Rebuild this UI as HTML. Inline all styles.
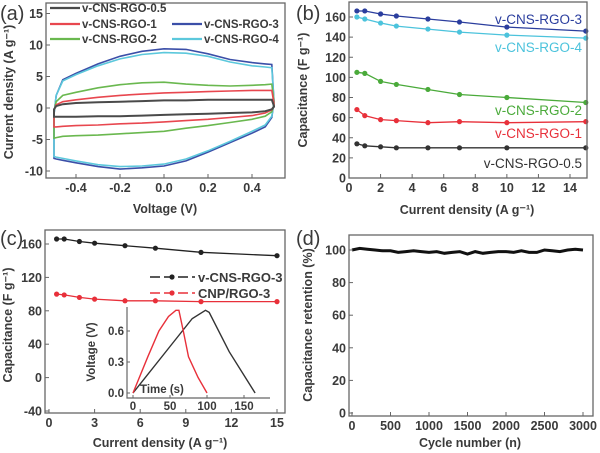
<!DOCTYPE html>
<html><head><meta charset="utf-8"><style>
html,body{margin:0;padding:0;background:#fff}
svg{display:block;font-family:"Liberation Sans",Arial,sans-serif}
text{fill:#3a3a3a}
</style></head><body>
<svg id="fig" width="600" height="453" viewBox="0 0 600 453"></svg>
<script>
// ---- panel a data (CV) ----
const cvVolt=[-0.5,-0.49,-0.46,-0.4,-0.3,-0.2,-0.1,0,0.1,0.2,0.3,0.4,0.46,0.49,0.5];
const cv05Up=[-0.2,0.3,0.6,0.8,0.9,1,1.1,1.2,1.2,1.3,1.3,1.3,1.3,1.3,0.3];
const cv05Lo=[-1.4,-1.4,-1.4,-1.4,-1.3,-1.3,-1.2,-1.1,-1,-0.9,-0.8,-0.7,-0.5,-0.2,0.2];
const cv1Up=[-0.3,0.5,1,1.3,1.7,2,2.2,2.4,2.5,2.6,2.7,2.8,2.8,2.8,0.7];
const cv1Lo=[-3,-3,-2.9,-2.8,-2.7,-2.5,-2.4,-2.2,-2,-1.8,-1.5,-1.2,-0.8,-0.3,0.3];
const cv2Up=[-0.5,1,2,2.5,3.2,3.7,4,4.1,3.8,3.6,3.5,3.6,3.7,3.8,1];
const cv2Lo=[-4.8,-4.7,-4.5,-4.4,-4.3,-4.1,-3.9,-3.7,-3.2,-2.8,-2.3,-1.8,-1.3,-0.6,0.5];
const cv3Up=[-1,2,4.5,5.5,7,8.2,9,9.4,9.3,8.6,7.7,7.2,7,6.9,1];
const cv3Lo=[-8,-8.1,-8.3,-8.7,-9.3,-9.7,-9.5,-9.2,-8.4,-7,-5.5,-4,-3,-1.5,1];
const cv4Up=[-1,2,4.3,5.3,6.7,7.8,8.5,8.8,8.7,8.2,7.3,6.7,6.5,6.4,1];
const cv4Lo=[-7.7,-7.8,-8,-8.4,-9,-9.3,-9.2,-8.9,-8.1,-6.8,-5.3,-3.7,-2.7,-1.3,1];
const aXTicks=[-0.4,-0.2,0.0,0.2,0.4];
const aYTicks=[-10,-5,0,5,10,15];
// ---- panel b data ----
const rateX=[0.5,1,2,3,5,7,10,15];
const capR3=[166,166,163,161,158,155,150,146];
const capR4=[160,158,154,151,148,145,142,139];
const capR2=[105,104,96,93,88,83,80,75];
const capR1=[68,62,58,57,55,56,55,56];
const capR05=[34,32,31,30,30,30,30,30];
const bXTicks=[0,2,4,6,8,10,12,14];
const bYTicks=[0,20,40,60,80,100,120,140,160];
// ---- panel c data ----
const capCNP=[100,99,96,94,92,92,91,91];
const cXTicks=[0,3,6,9,12,15];
const cYTicks=[-40,0,40,80,120,160];
const gcdBlackT=[0,50,80,98,103,130,165];
const gcdBlackV=[0,0.45,0.72,0.8,0.78,0.4,0];
const gcdRedT=[0,20,35,48,58,62,68,75,88,100];
const gcdRedV=[0,0.35,0.6,0.74,0.8,0.8,0.6,0.35,0.15,0];
const insetXTicks=[0,50,100,150];
const insetYTicks=[0.0,0.3,0.6];
// ---- panel d data ----
const cycleVals=[100,101,100.5,100,99.5,99.5,98.5,99,99.5,99,98.5,99,98,98.5,99,97.5,99,98,98.5,99,99,98.5,99.5,98.5,98.5,100,99.5,99,100,100.5,100];
const dXTicks=[0,500,1000,1500,2000,2500,3000];
const dYTicks=[0,20,40,60,80,100];

const NS="http://www.w3.org/2000/svg";
const svg=document.getElementById('fig');
function el(tag,attrs,parent){const e=document.createElementNS(NS,tag);for(const k in attrs)e.setAttribute(k,attrs[k]);(parent||svg).appendChild(e);return e;}
function txt(x,y,s,size,anchor,parent,extra){const t=el('text',Object.assign({x:x,y:y,'font-size':size,'text-anchor':anchor||'middle'},extra||{}),parent);t.textContent=s;return t;}
function lin(d0,d1,p0,p1){return v=>p0+(v-d0)*(p1-p0)/(d1-d0);}
function frame(x0,y0,x1,y1,name){const r=el('rect',{x:x0,y:y0,width:x1-x0,height:y1-y0,fill:'none',stroke:'#666','stroke-width':1.3});}
function axes(xs,ys,xt,yt,x0,y0,x1,y1,fmtX,fmtY,pre){
 const gx=el('g',{});
 xt.forEach(v=>{const X=xs(v);el('line',{x1:X,x2:X,y1:y1,y2:y1-4,stroke:'#666'},gx);const t=txt(X,y1+14,fmtX(v),12.5,'middle',gx,{'font-weight':'bold'});});
 const gy=el('g',{});
 yt.forEach(v=>{const Y=ys(v);el('line',{x1:x0,x2:x0+4,y1:Y,y2:Y,stroke:'#666'},gy);const t=txt(x0-3,Y+4.5,fmtY(v),12.5,'end',gy,{'font-weight':'bold'});});
}
function ytitle(x,y,s,name){const t=txt(x,y,'',12.5,'middle',null,{transform:`rotate(-90 ${x} ${y})`,'font-weight':'bold'});t.textContent=s;return t;}
function xtitle(x,y,s,name){const t=txt(x,y,s,12.5,'middle',null,{'font-weight':'bold'});}
function label(x,y,s,name){const t=txt(x,y,s,20,'start');}
function polyPath(xs,ys,X,Y){return X.map((v,i)=>(i?'L':'M')+xs(v).toFixed(1)+','+ys(Y[i]).toFixed(1)).join('');}
function series(xs,ys,X,Y,col,name,r){const g=el('g',{});
 el('path',{d:polyPath(xs,ys,X,Y),fill:'none',stroke:col,'stroke-width':1.3},g);
 X.forEach((v,i)=>{const c=el('circle',{cx:xs(v),cy:ys(Y[i]),r:r||2.6,fill:col},g);});}

// ===== Panel a =====
{const x0=46,x1=285,y0=3,y1=178;
 const xs=lin(-0.5,0.5,54,274), ys=lin(0,10,108,45);
 const cols=['#4a4a4a','#e8474f','#6ab84f','#3b4fa8','#5cc8dc'];
 const ups=[cv05Up,cv1Up,cv2Up,cv3Up,cv4Up], los=[cv05Lo,cv1Lo,cv2Lo,cv3Lo,cv4Lo];
 const names=['cv-rgo-0-5','cv-rgo-1','cv-rgo-2','cv-rgo-3','cv-rgo-4'];
 [3,4,2,1,0].forEach(k=>{const d=polyPath(xs,ys,cvVolt,ups[k])+polyPath(xs,ys,cvVolt.slice().reverse(),los[k].slice().reverse()).replace('M','L')+'Z';
  const p=el('path',{d:d,fill:'none',stroke:cols[k],'stroke-width':k==0?2:1.6});});
 frame(x0,y0,x1,y1,'panel-a-frame');
 axes(xs,ys,aXTicks,aYTicks,x0,y0,x1,y1,v=>v.toFixed(1),v=>String(v),'panel-a');
 const lg=el('g',{});
 [[0,50,8,'v-CNS-RGO-0.5'],[1,50,24,'v-CNS-RGO-1'],[2,50,39,'v-CNS-RGO-2'],[3,172,24,'v-CNS-RGO-3'],[4,172,39,'v-CNS-RGO-4']].forEach(e=>{
  const g=el('g',{},lg);
  el('line',{x1:e[1],x2:e[1]+30,y1:e[2],y2:e[2],stroke:cols[e[0]],'stroke-width':2.2},g);
  txt(e[1]+32,e[2]+4,e[3],11.5,'start',g,{'font-weight':'bold'});});
 ytitle(13,92,'Current density (A g⁻¹)','panel-a-y-title');
 xtitle(165,213,'Voltage (V)','panel-a-x-title');
 label(0,20,'(a)','panel-a-label');}

// ===== Panel b =====
{const x0=349,x1=587,y0=2,y1=178;
 const xs=lin(0,14,349,570), ys=lin(0,160,178,17);
 const cols=['#333','#e8303a','#4aaa3a','#2b3e9e','#4cc3dc'];
 const data=[capR05,capR1,capR2,capR3,capR4];
 const nm=['cap-rgo-0-5','cap-rgo-1','cap-rgo-2','cap-rgo-3','cap-rgo-4'];
 data.forEach((d,k)=>series(xs,ys,rateX,d,cols[k],nm[k]));
 frame(x0,y0,x1,y1,'panel-b-frame');
 axes(xs,ys,bXTicks,bYTicks,x0,y0,x1,y1,v=>String(v),v=>String(v),'panel-b');
 [['v-CNS-RGO-3',24,3],['v-CNS-RGO-4',52,4],['v-CNS-RGO-2',115,2],['v-CNS-RGO-1',138,1],['v-CNS-RGO-0.5',168,0]].forEach(e=>{
  const t=txt(582,e[1],e[0],13.5,'end',null,{fill:cols[e[2]],style:'fill:'+cols[e[2]]});});
 ytitle(307,90,'Capacitance (F g⁻¹)','panel-b-y-title');
 xtitle(467,214,'Current density (A g⁻¹)','panel-b-x-title');
 label(296,20,'(b)','panel-b-label');}

// ===== Panel c =====
{const x0=45,x1=285,y0=230,y1=413;
 const xs=lin(0,15,49,277), ys=lin(-40,160,411,244);
 series(xs,ys,rateX,capR3,'#222','cap-vcns-rgo-3',2.6);
 series(xs,ys,rateX,capCNP,'#e8303a','cap-cnp-rgo-3',2.6);
 frame(x0,y0,x1,y1,'panel-c-frame');
 axes(xs,ys,cXTicks,cYTicks,x0,y0,x1,y1,v=>String(v),v=>String(v),'panel-c');
 const lg=el('g',{});
 [['#222',277,'v-CNS-RGO-3'],['#e8303a',293,'CNP/RGO-3']].forEach(e=>{const g=el('g',{},lg);
  el('line',{x1:150,x2:195,y1:e[1],y2:e[1],stroke:e[0],'stroke-width':1.4,'stroke-dasharray':'10 4'},g);
  el('circle',{cx:172,cy:e[1],r:2.6,fill:e[0]},g);
  txt(198,e[1]+5,e[2],13,'start',g,{'font-weight':'bold'});});
 // inset
 const ix0=127,ix1=270,iy0=307,iy1=398;
 const ixs=lin(0,150,133,244), iys=lin(0,0.6,393,331);
 el('rect',{x:ix0,y:iy0,width:ix1-ix0,height:iy1-iy0,fill:'#fff',stroke:'none'});
 const p1=el('path',{d:polyPath(ixs,iys,gcdBlackT,gcdBlackV),fill:'none',stroke:'#333','stroke-width':1.4});
 const p2=el('path',{d:polyPath(ixs,iys,gcdRedT,gcdRedV),fill:'none',stroke:'#e8303a','stroke-width':1.4});
 el('polyline',{points:`${ix0},${iy0} ${ix0},${iy1} ${ix1},${iy1}`,fill:'none',stroke:'#666','stroke-width':1.2});
 const ig=el('g',{});
 insetXTicks.forEach(v=>{const X=ixs(v);el('line',{x1:X,x2:X,y1:iy1,y2:iy1-3,stroke:'#666'},ig);txt(X,iy1+12,String(v),11.5,'middle',ig,{'font-weight':'bold'});});
 insetYTicks.forEach(v=>{const Y=iys(v);el('line',{x1:ix0,x2:ix0+3,y1:Y,y2:Y,stroke:'#666'},ig);txt(ix0-3,Y+4,v.toFixed(1),11.5,'end',ig,{'font-weight':'bold'});});
 const it=txt(140,393,'Time (s)',11.5,'start',null,{'font-weight':'bold'});
 const iy=txt(95,352,'Voltage (V)',11.5,'middle',null,{transform:'rotate(-90 95 352)','font-weight':'bold'});
 ytitle(12,325,'Capacitance (F g⁻¹)','panel-c-y-title');
 xtitle(160,447,'Current density (A g⁻¹)','panel-c-x-title');
 label(0,245,'(c)','panel-c-label');}

// ===== Panel d =====
{const x0=349,x1=593,y0=235,y1=416;
 const xs=lin(0,3000,352,583), ys=lin(0,100,413,250);
 const cyc=cycleVals.map((v,i)=>i*100);
 const p=el('path',{d:polyPath(xs,ys,cyc,cycleVals),fill:'none',stroke:'#111','stroke-width':3});
 frame(x0,y0,x1,y1,'panel-d-frame');
 axes(xs,ys,dXTicks,dYTicks,x0,y0,x1,y1,v=>String(v),v=>String(v),'panel-d');
 ytitle(312,325,'Capacitance retention (%)','panel-d-y-title');
 xtitle(470,447,'Cycle number (n)','panel-d-x-title');
 label(296,245,'(d)','panel-d-label');}
</script>
</body></html>
